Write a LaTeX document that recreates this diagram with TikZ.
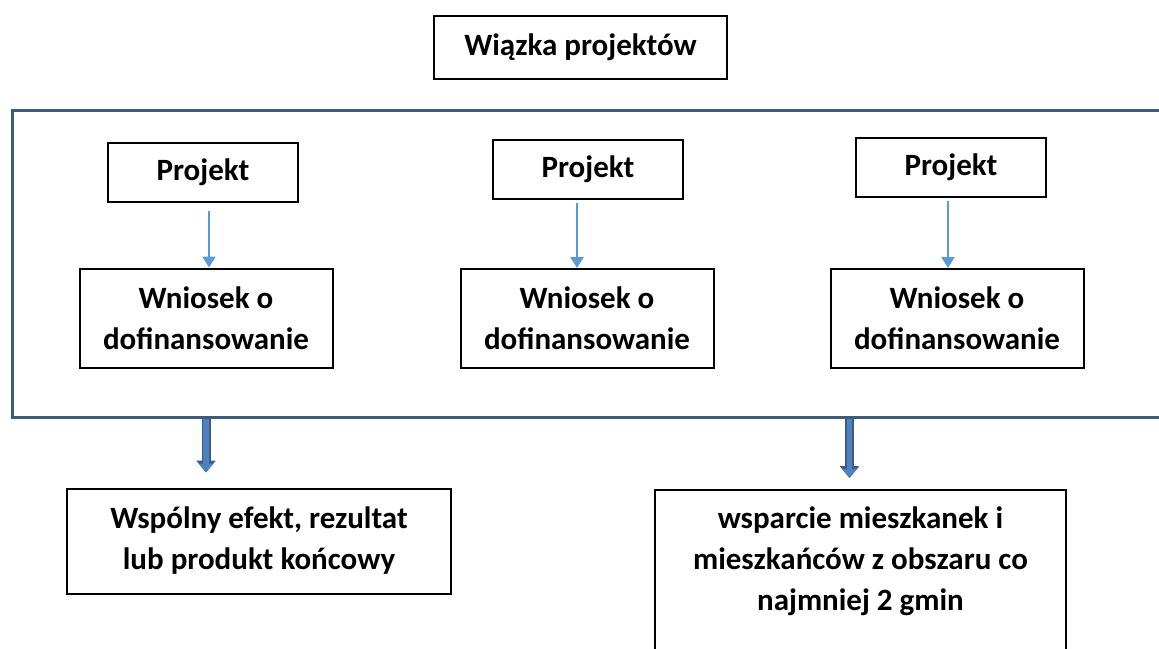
\documentclass[tikz,border=0pt]{standalone}
\usepackage{fontspec}
\setmainfont{Carlito}
\usetikzlibrary{arrows.meta}
\definecolor{framecol}{HTML}{3E5B7A}
\definecolor{linkcol}{HTML}{5B9BD5}
\definecolor{fatcol}{HTML}{4F81BD}
\definecolor{fatrim}{HTML}{385D8A}

\begin{document}
\begin{tikzpicture}[x=1pt, y=-1pt,
  box/.style={draw=black, line width=2pt, align=center, inner sep=4pt, font=\fontsize{31}{41}\selectfont\bfseries},
  projbox/.style={box, minimum width=190pt, minimum height=59pt},
  appbox/.style={box, minimum width=253pt, minimum height=99pt},
  link/.style={draw=linkcol, line width=2.5pt, -{Triangle[width=13pt,length=11pt]}},
  fatlink/.style={preaction={draw=fatrim, line width=9pt, -{Triangle[width=19pt,length=12pt]}}, draw=fatcol, line width=5.5pt, -{Triangle[width=14pt,length=9pt]}}]
  \clip (0,0) rectangle (1159,648);
  \fill[white] (0,0) rectangle (1159,648);

  % title
  \node[box, minimum width=293pt, minimum height=63pt] (bundle) at (580.5,47.5) {Wiązka projektów};

  % frame round the three projects
  \node[draw=framecol, line width=3pt, minimum width=1170pt, minimum height=307pt, inner sep=0pt] (frame) at (597,263.5) {};

  \node[projbox] (p1) at (203,172) {Projekt};
  \node[projbox] (p2) at (588,169) {Projekt};
  \node[projbox] (p3) at (951,167.5) {Projekt};

  \node[appbox] (w1) at (206,318) {Wniosek o\\dofinansowanie};
  \node[appbox] (w2) at (587,318.5) {Wniosek o\\dofinansowanie};
  \node[appbox] (w3) at (957,318.5) {Wniosek o\\dofinansowanie};

  % vertical links, each at its own x
  \coordinate (a1) at (209,0);
  \coordinate (a2) at (577,0);
  \coordinate (a3) at (948,0);
  \draw[link] ([yshift=-8pt]p1.south -| a1) -- (w1.north -| a1);
  \draw[link] ([yshift=-3pt]p2.south -| a2) -- (w2.north -| a2);
  \draw[link] ([yshift=-3pt]p3.south -| a3) -- (w3.north -| a3);

  % results
  \node[box, minimum width=384pt, minimum height=105pt] (effect) at (259,541) {Wspólny efekt, rezultat\\lub produkt końcowy};
  \node[box, anchor=north, minimum width=411pt, inner ysep=17pt] (support) at (860.5,489) {wsparcie mieszkanek i\\mieszkańców z obszaru co\\najmniej 2 gmin\\[60pt]~};

  \coordinate (e1) at ([yshift=15pt]effect.north -| w1.south);
  \coordinate (e2) at ([xshift=-11pt,yshift=11pt]support.north);
  \draw[fatlink] (frame.south -| e1) -- (e1);
  \draw[fatlink] (frame.south -| e2) -- (e2);
\end{tikzpicture}
\end{document}
